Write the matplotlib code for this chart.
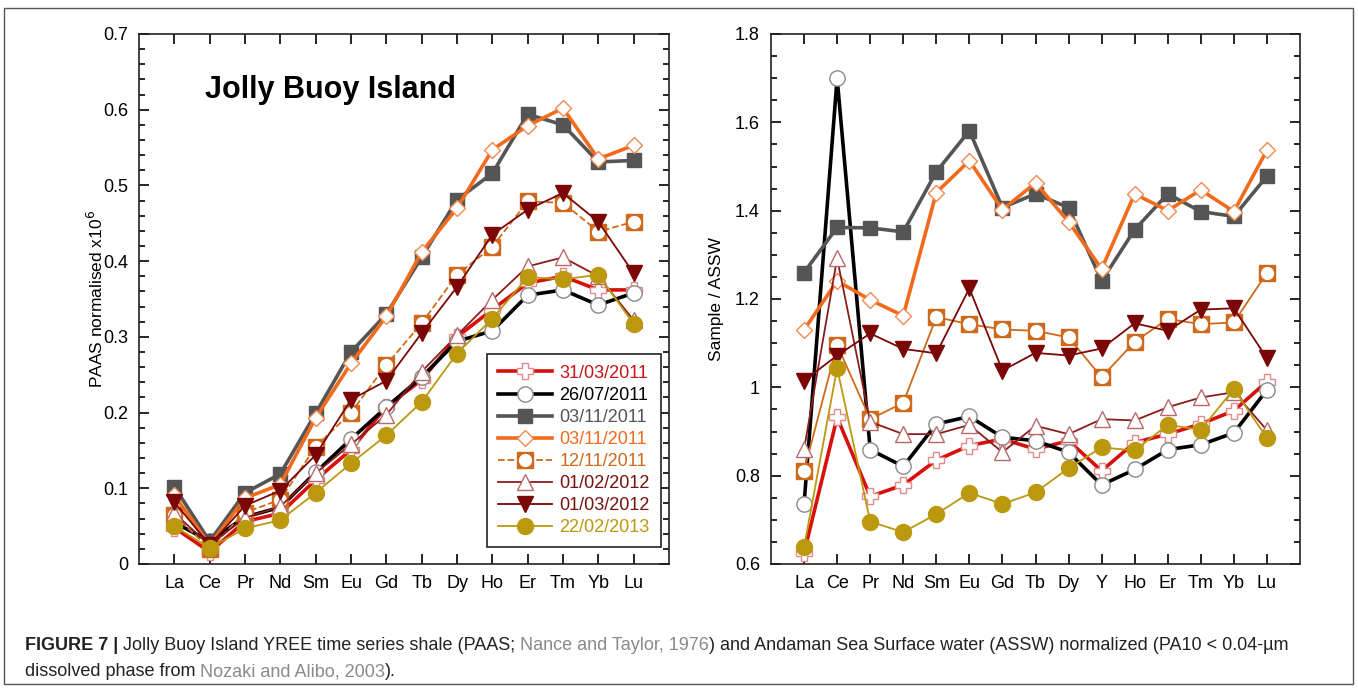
import matplotlib
matplotlib.use('Agg')
import matplotlib.pyplot as plt
from matplotlib.legend_handler import HandlerTuple
from matplotlib.patches import Rectangle
from matplotlib.ticker import MultipleLocator, FuncFormatter

plt.rcParams['font.family'] = ['Liberation Sans', 'DejaVu Sans']

# element order on each panel
ree_paas = ["La", "Ce", "Pr", "Nd", "Sm", "Eu", "Gd", "Tb", "Dy", "Ho", "Er", "Tm", "Yb", "Lu"]
ree_assw = ["La", "Ce", "Pr", "Nd", "Sm", "Eu", "Gd", "Tb", "Dy", "Y", "Ho", "Er", "Tm", "Yb", "Lu"]

dates = ["31/03/2011", "26/07/2011", "03/11/2011", "03/11/2011",
         "12/11/2011", "01/02/2012", "01/03/2012", "22/02/2013"]

# shale (PAAS) normalised, x1e6
paas_310311 = [0.048, 0.016, 0.056, 0.067, 0.111, 0.151, 0.208, 0.243, 0.300, 0.336, 0.371, 0.380, 0.362, 0.362]
paas_260711 = [0.055, 0.030, 0.062, 0.075, 0.121, 0.165, 0.207, 0.247, 0.294, 0.308, 0.355, 0.362, 0.342, 0.358]
paas_031111a = [0.102, 0.030, 0.094, 0.119, 0.199, 0.280, 0.330, 0.405, 0.481, 0.516, 0.594, 0.580, 0.531, 0.533]
paas_031111b = [0.091, 0.025, 0.087, 0.105, 0.193, 0.265, 0.327, 0.412, 0.470, 0.547, 0.579, 0.602, 0.535, 0.553]
paas_121111 = [0.065, 0.020, 0.068, 0.085, 0.155, 0.200, 0.263, 0.318, 0.382, 0.419, 0.479, 0.477, 0.439, 0.452]
paas_010212 = [0.067, 0.025, 0.061, 0.076, 0.120, 0.158, 0.197, 0.254, 0.302, 0.349, 0.393, 0.405, 0.380, 0.322]
paas_010312 = [0.082, 0.025, 0.077, 0.097, 0.144, 0.217, 0.242, 0.305, 0.366, 0.435, 0.468, 0.490, 0.452, 0.384]
paas_220213 = [0.050, 0.021, 0.047, 0.058, 0.094, 0.133, 0.170, 0.214, 0.278, 0.324, 0.379, 0.376, 0.382, 0.317]

# Andaman Sea surface water (ASSW) normalised
assw_310311 = [0.625, 0.932, 0.753, 0.779, 0.835, 0.868, 0.883, 0.860, 0.879, 0.811, 0.875, 0.894, 0.917, 0.947, 1.013]
assw_260711 = [0.736, 1.700, 0.859, 0.821, 0.917, 0.934, 0.887, 0.879, 0.853, 0.779, 0.814, 0.859, 0.870, 0.897, 0.994]
assw_031111a = [1.260, 1.362, 1.361, 1.352, 1.488, 1.581, 1.407, 1.438, 1.407, 1.241, 1.357, 1.438, 1.398, 1.387, 1.478]
assw_031111b = [1.130, 1.241, 1.198, 1.162, 1.441, 1.513, 1.402, 1.463, 1.375, 1.268, 1.438, 1.400, 1.447, 1.398, 1.537]
assw_121111 = [0.811, 1.096, 0.928, 0.965, 1.159, 1.143, 1.131, 1.128, 1.113, 1.023, 1.103, 1.155, 1.143, 1.147, 1.259]
assw_010212 = [0.860, 1.292, 0.922, 0.894, 0.894, 0.915, 0.853, 0.913, 0.894, 0.928, 0.925, 0.955, 0.977, 0.989, 0.903]
assw_010312 = [1.015, 1.072, 1.122, 1.087, 1.077, 1.224, 1.038, 1.078, 1.072, 1.088, 1.145, 1.128, 1.176, 1.179, 1.066]
assw_220213 = [0.638, 1.044, 0.696, 0.672, 0.713, 0.761, 0.736, 0.762, 0.817, 0.864, 0.857, 0.915, 0.904, 0.996, 0.885]

paas_series = [paas_310311, paas_260711, paas_031111a, paas_031111b,
               paas_121111, paas_010212, paas_010312, paas_220213]
assw_series = [assw_310311, assw_260711, assw_031111a, assw_031111b,
               assw_121111, assw_010212, assw_010312, assw_220213]

# line colour, width, marker, marker size, face, edge, text colour
styles = [
    dict(c="#d8100c", lw=2.6, m="P", ms=12, mfc="white", mec="#e48a8a", tc="#c8141a"),
    dict(c="#000000", lw=2.6, m="o", ms=11, mfc="white", mec="#8a8a8a", tc="#000000"),
    dict(c="#555555", lw=2.6, m="s", ms=10.5, mfc="#555555", mec="#555555", tc="#555555"),
    dict(c="#f26b1d", lw=2.6, m="D", ms=8.5, mfc="white", mec="#f08a50", tc="#f26b1d"),
    dict(c="#cf6a1c", lw=1.3, m="s", ms=11.5, mfc="#cf6a1c", mec="#cf6a1c", tc="#cf6a1c"),
    dict(c="#8c1c1c", lw=1.3, m="^", ms=11.5, mfc="white", mec="#b86a6a", tc="#7a1010"),
    dict(c="#7a0606", lw=1.3, m="v", ms=11.5, mfc="#7a0606", mec="#7a0606", tc="#7a1010"),
    dict(c="#bb980e", lw=1.3, m="o", ms=11.5, mfc="#bb980e", mec="#bb980e", tc="#bb980e"),
]

fig = plt.figure(figsize=(13.58, 6.88), dpi=100)
ax1 = fig.add_axes([139 / 1358, 124 / 688, 530 / 1358, 530 / 688])
ax2 = fig.add_axes([771 / 1358, 124 / 688, 529 / 1358, 530 / 688])


def draw_panel(ax, labels, series, dashed_idx=None):
    x = list(range(len(labels)))
    handles = []
    for k, (vals, st) in enumerate(zip(series, styles)):
        ls = "--" if k == dashed_idx else "-"
        h, = ax.plot(x, vals, color=st["c"], lw=st["lw"], ls=ls, marker=st["m"],
                     ms=st["ms"], mfc=st["mfc"], mec=st["mec"], mew=1.0, zorder=3 + k)
        if k == 4:
            # open circle sitting inside the filled square
            h2, = ax.plot(x, vals, ls="none", marker="o", ms=8.5, mfc="white",
                          mec="white", zorder=3 + k)
            handles.append((h, h2))
        else:
            handles.append(h)
    ax.set_xticks(x)
    ax.set_xticklabels(labels)
    ax.set_xlim(-1, len(labels))
    ax.tick_params(axis="both", which="both", direction="in", top=True, right=True,
                   labelsize=13, width=1.2)
    ax.tick_params(axis="both", which="major", length=7, pad=8)
    ax.tick_params(axis="y", which="minor", length=4)
    ax.tick_params(axis="x", which="minor", bottom=False, top=False)
    ax.yaxis.set_major_formatter(FuncFormatter(lambda v, p: f"{v:g}"))
    for sp in ax.spines.values():
        sp.set_linewidth(1.2)
        sp.set_color("#222222")
    return handles


handles = draw_panel(ax1, ree_paas, paas_series, dashed_idx=4)
ax1.set_ylim(0, 0.7)
ax1.yaxis.set_major_locator(MultipleLocator(0.1))
ax1.yaxis.set_minor_locator(MultipleLocator(0.02))
ax1.set_ylabel(r"PAAS normalised x10$^6$", fontsize=12.5, labelpad=-2)
ax1.text(0.125, 0.895, "Jolly Buoy Island", transform=ax1.transAxes,
         fontsize=22, fontweight="bold", va="center", ha="left")

leg = ax1.legend(handles, dates, loc="lower right", bbox_to_anchor=(0.984, 0.032),
                 borderaxespad=0, fontsize=13, handlelength=3.0, handletextpad=0.4,
                 labelspacing=0.28, borderpad=0.6, fancybox=False, framealpha=1,
                 edgecolor="#222222", numpoints=1,
                 handler_map={tuple: HandlerTuple(ndivide=1)})
leg.get_frame().set_linewidth(1.2)
for txt, st in zip(leg.get_texts(), styles):
    txt.set_color(st["tc"])

draw_panel(ax2, ree_assw, assw_series)
ax2.set_ylim(0.6, 1.8)
ax2.yaxis.set_major_locator(MultipleLocator(0.2))
ax2.yaxis.set_minor_locator(MultipleLocator(0.05))
ax2.set_ylabel("Sample / ASSW", fontsize=12.5, labelpad=8)

# frame round figure and caption
fig.patches.append(Rectangle((4 / 1358, 4 / 688), 1349 / 1358, 676 / 688,
                             transform=fig.transFigure, fill=False,
                             edgecolor="#555555", lw=1.0))

# caption, pieces in different weights / colours
cap_font = ["Liberation Sans Narrow", "Liberation Sans", "DejaVu Sans"]
line1 = [("FIGURE 7 | ", "bold", "#222222"),
         ("Jolly Buoy Island YREE time series shale (PAAS; ", "normal", "#222222"),
         ("Nance and Taylor, 1976", "normal", "#8a8a8a"),
         (") and Andaman Sea Surface water (ASSW) normalized (PA10 < 0.04-\u00b5m", "normal", "#222222")]
line2 = [("dissolved phase from ", "normal", "#222222"),
         ("Nozaki and Alibo, 2003", "normal", "#8a8a8a"),
         (").", "normal", "#222222")]

renderer = fig.canvas.get_renderer()
for parts, ypix in [(line1, 645), (line2, 672)]:
    xpix = 25
    for s, w, col in parts:
        t = fig.text(xpix / 1358, 1 - ypix / 688, s, fontsize=13, fontweight=w,
                     color=col, family=cap_font, va="center", ha="left")
        bb = t.get_window_extent(renderer=renderer)
        xpix += bb.width

fig.savefig("out.png", dpi=100)
